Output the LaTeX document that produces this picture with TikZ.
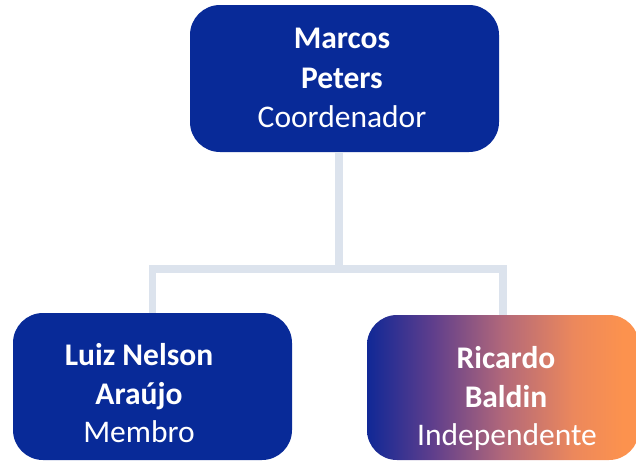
\documentclass[tikz,border=0pt]{standalone}
\usepackage{fontspec}
\setmainfont{Carlito}
\definecolor{boxblue}{RGB}{8,42,152}
\definecolor{conncol}{RGB}{220,227,237}
\definecolor{g1}{RGB}{16,40,150}
\definecolor{g2}{RGB}{95,62,140}
\definecolor{g3}{RGB}{178,104,122}
\definecolor{g4}{RGB}{236,136,92}
\definecolor{g5}{RGB}{252,146,78}
\pgfdeclarehorizontalshading{ricardo}{100bp}{color(0bp)=(g1); color(25bp)=(g1); color(37bp)=(g2); color(50bp)=(g3); color(63bp)=(g4); color(72bp)=(g5); color(100bp)=(g5)}
\tikzset{
  card/.style={draw=none, rounded corners=30pt},
  conn/.style={draw=conncol, line width=7.5pt, line join=miter},
  namelbl/.style={anchor=base, text=white, font=\fontsize{31.5}{36}\selectfont\bfseries, inner sep=0pt},
  rolelbl/.style={anchor=base, text=white, font=\fontsize{31.5}{36}\selectfont, inner sep=0pt},
}
\begin{document}
\begin{tikzpicture}[x=1pt,y=-1pt]
\useasboundingbox (0,0) rectangle (636,461);
% boxes
\node[card, fill=boxblue, minimum width=309pt, minimum height=147pt] (top) at (344.5,78.5) {};
\node[card, fill=boxblue, minimum width=279pt, minimum height=147pt] (left) at (152.5,386.5) {};
\node[card, shading=ricardo, minimum width=272pt, minimum height=145pt] (right) at (503,387.5) {};
% connectors
\coordinate (j) at (339,269);
\draw[conn] (j |- top.south) -- (j);
\draw[conn] (left.north) |- (j) -| (right.north);
% labels
\node[namelbl] (t1) at (342,48) {Marcos};
\node[namelbl] (t2) at (342,88) {Peters};
\node[rolelbl] (t3) at (342,127) {Coordenador};
\node[namelbl] (l1) at (139,365) {Luiz Nelson};
\node[namelbl] (l2) at (139,404) {Araújo};
\node[rolelbl] (l3) at (139,442) {Membro};
\node[namelbl] (r1) at (506,368) {Ricardo};
\node[namelbl] (r2) at (506,407) {Baldin};
\node[rolelbl] (r3) at (507,445) {Independente};
\end{tikzpicture}
\end{document}
